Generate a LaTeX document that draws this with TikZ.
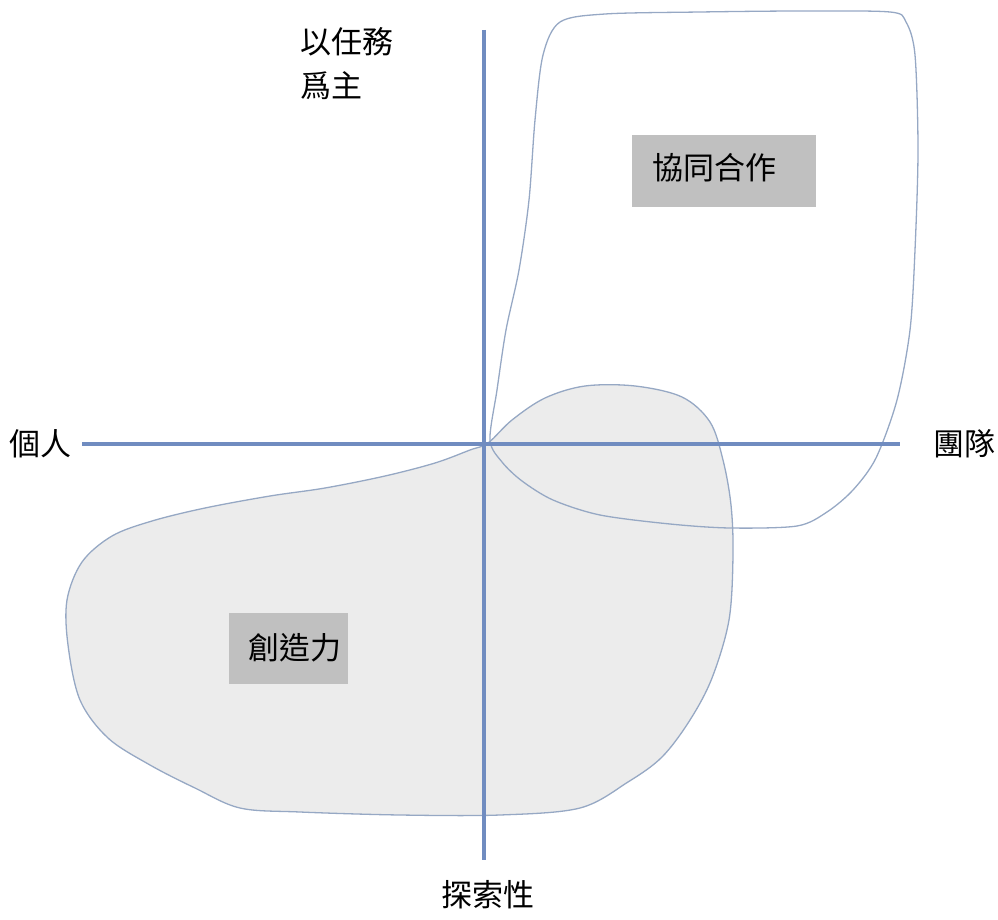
\documentclass[tikz,border=0pt]{standalone}
\usepackage{fontspec}
\setmainfont{Noto Sans CJK TC}
\definecolor{axisblue}{RGB}{112,140,192}
\definecolor{blobline}{RGB}{150,168,196}
\definecolor{blobfill}{RGB}{236,236,236}
\definecolor{boxgray}{RGB}{192,192,192}
\begin{document}
\begin{tikzpicture}[x=1pt,y=-1pt,
  axis/.style={draw=axisblue,line width=3.5pt},
  blob/.style={draw=blobline,line width=1.3pt},
  lbl/.style={font=\fontsize{31}{38}\selectfont,inner sep=0pt},
  tag/.style={fill=boxgray,inner sep=0pt,anchor=north west}]
\useasboundingbox (0,0) rectangle (998,920);
% creativity region
\draw[blob,fill=blobfill] plot[smooth cycle,tension=0.55] coordinates {
 (488,443) (512,420) (545,398) (585,386) (635,386) (682,397) (710,422) (723,460)
 (731,505) (733,555) (729,620) (712,678) (690,720) (662,757) (628,782) (580,808)
 (500,815) (400,815) (300,812) (240,808) (195,788) (150,765) (108,738) (80,700)
 (68,645) (67,600) (82,562) (112,536) (152,521) (205,508) (270,496) (325,488)
 (385,476) (435,463) (470,450)};
% collaboration region
\draw[blob] plot[smooth cycle,tension=0.5] coordinates {
 (490,440) (497,390) (506,330) (519,270) (529,200) (535,120) (543,55) (560,22)
 (605,14) (700,12) (800,11) (890,12) (906,22) (915,55) (918,150) (915,250)
 (910,330) (897,400) (876,458) (853,490) (827,512) (797,526) (730,528) (670,524)
 (600,515) (553,500) (522,481) (502,462)};
% axes
\coordinate (vt) at (484,30);
\coordinate (vb) at (484,860);
\coordinate (hl) at (82,444);
\coordinate (hr) at (900,444);
\draw[axis] (vt) -- (vb);
\draw[axis] (hl) -- (hr);
% boxes
\node[tag,minimum width=184pt,minimum height=72pt] (collab) at (632,135) {};
\node[lbl,anchor=west] (collabt) at (652,168) {協同合作};
\node[tag,minimum width=119pt,minimum height=71pt] (creat) at (229,613) {};
\node[lbl,anchor=west] (creatt) at (248,648) {創造力};
% axis labels
\node[lbl,anchor=west] (task1) at (300,42) {以任務};
\node[lbl,anchor=west] (task2) at (300,86) {爲主};
\node[lbl,anchor=west] (indiv) at (9,444) {個人};
\node[lbl,anchor=west] (team) at (933,444) {團隊};
\node[lbl] (explore) at (488,895) {探索性};
\end{tikzpicture}
\end{document}
